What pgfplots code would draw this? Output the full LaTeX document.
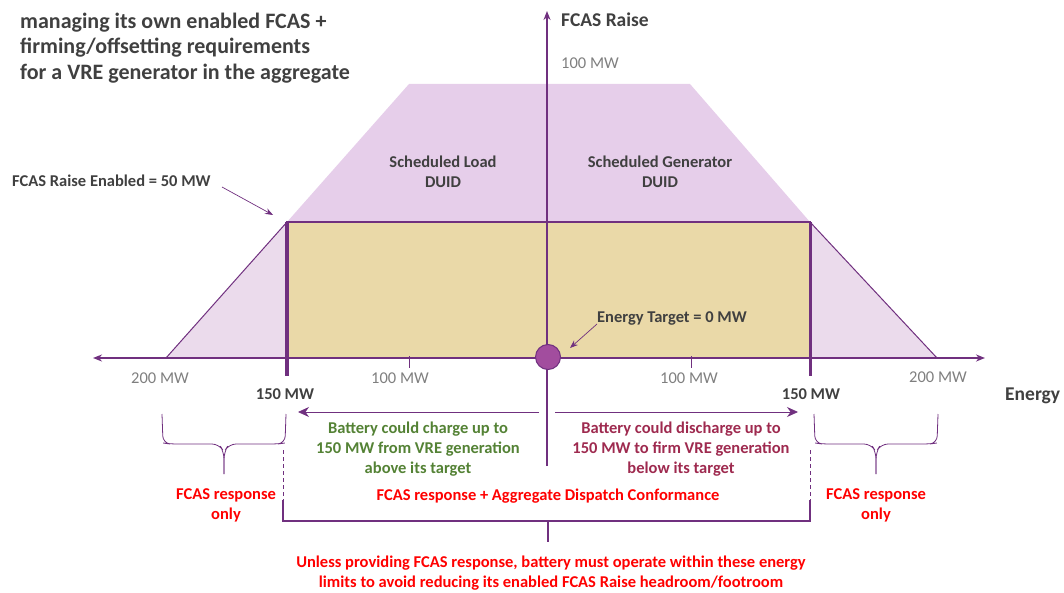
\documentclass[border=0pt]{standalone}
\usepackage{pgfplots}
\pgfplotsset{compat=1.18}
\usepackage{fontspec}
\setmainfont{Carlito}
\usetikzlibrary{arrows.meta}
\definecolor{pur}{HTML}{70307F}
\definecolor{lav}{HTML}{E6CEEA}
\definecolor{lavside}{HTML}{EBDBEC}
\definecolor{tan}{HTML}{EAD9A8}
\definecolor{dot}{HTML}{A24D9E}
\definecolor{dgray}{HTML}{404040}
\definecolor{mgray}{HTML}{7F7F7F}
\definecolor{grn}{HTML}{548235}
\definecolor{mar}{HTML}{9E2A4F}
\tikzset{lbl/.style={inner sep=0pt, align=center}}
\newcommand{\lab}{\fontsize{16.5}{20}\selectfont\bfseries}
\newcommand{\num}{\fontsize{16.5}{20}\selectfont}
\begin{document}
\begin{tikzpicture}
\useasboundingbox (0,0) rectangle (1064pt,593pt);
\begin{axis}[
    scale only axis,
    width=1064pt, height=593pt,
    xmin=0, xmax=1064, ymin=0, ymax=593,
    y dir=reverse,
    hide axis,
    clip=false,
  ]
  % shaded regions
  \addplot [fill=lav, draw=none] coordinates {(287,222) (409,84) (690,84) (810,222)} -- cycle;
  \addplot [fill=lavside, draw=none] coordinates {(166,358) (287,222) (287,358)} -- cycle;
  \addplot [fill=lavside, draw=none] coordinates {(810,222) (937,358) (810,358)} -- cycle;
  \addplot [fill=tan, draw=pur, line width=1.2pt] coordinates {(287,222) (810,222) (810,358) (287,358)} -- cycle;
  % slanted edges
  \addplot [pur, line width=1pt] coordinates {(166,358) (287,222)};
  \addplot [pur, line width=1pt] coordinates {(810,222) (937,358)};
  % thick 150 MW limits
  \addplot [pur, line width=3.5pt] coordinates {(287,222) (287,376)};
  \addplot [pur, line width=3pt] coordinates {(810,222) (810,376)};
  % axes
  \addplot [pur, line width=1.6pt, {Stealth[length=9pt,width=7pt]}-{Stealth[length=9pt,width=7pt]}] coordinates {(93,358) (985,358)};
  \addplot [pur, line width=1.6pt, -{Stealth[length=9pt,width=7pt]}] coordinates {(547,466) (547,11)};
  \addplot [pur, line width=0.8pt] coordinates {(409,356) (409,368)};
  \addplot [pur, line width=0.8pt] coordinates {(691,356) (691,368)};
  % energy target dot
  \addplot [only marks, mark=*, mark size=12.5pt, mark options={fill=dot, draw=pur, line width=1pt}] coordinates {(548,357)};
  % charge / discharge arrows
  \addplot [pur, line width=0.8pt, -{Stealth[length=11pt,width=10pt]}] coordinates {(539,412) (298,412)};
  \addplot [pur, line width=0.8pt, -{Stealth[length=11pt,width=10pt]}] coordinates {(555,412) (798,412)};
  % annotation arrows
  \addplot [pur, line width=0.7pt, -{Stealth[length=8pt,width=6pt]}] coordinates {(222,187) (273,215)};
  \addplot [pur, line width=0.7pt, -{Stealth[length=8pt,width=6pt]}] coordinates {(597,324) (570,348)};
  % braces
  \addplot [pur, line width=0.8pt, rounded corners=7pt] coordinates {(162,414) (163,443) (170,444) (219,444) (224,452) (224,474)};
  \addplot [pur, line width=0.8pt, rounded corners=7pt] coordinates {(286,414) (285,443) (278,444) (229,444) (224,452) (224,474)};
  \addplot [pur, line width=0.8pt, rounded corners=7pt] coordinates {(814,414) (815,443) (822,444) (871,444) (876,452) (876,474)};
  \addplot [pur, line width=0.8pt, rounded corners=7pt] coordinates {(938,414) (937,443) (930,444) (881,444) (876,452) (876,474)};
  % dashed links
  \addplot [pur, line width=0.8pt, dash pattern=on 4pt off 3pt] coordinates {(283,450) (283,502)};
  \addplot [pur, line width=0.8pt, dash pattern=on 4pt off 3pt] coordinates {(810,450) (810,502)};
  % conformance bracket
  \addplot [pur, line width=2.5pt] coordinates {(283,500) (283,521) (810,521) (810,500)};
  \addplot [pur, line width=2.5pt] coordinates {(548,521) (548,542)};

  % texts
  \node [lbl, anchor=west, align=left, text=dgray, font=\fontsize{22}{25.5}\selectfont\bfseries] at (axis cs:20,48)
    {managing its own enabled FCAS +\\ firming/offsetting requirements\\ for a VRE generator in the aggregate};
  \node [lbl, anchor=west, text=dgray, font=\fontsize{19.5}{22}\selectfont\bfseries] at (axis cs:561,20) {FCAS Raise};
  \node [lbl, anchor=west, text=mgray, font=\num] at (axis cs:561,63) {100 MW};
  \node [lbl, anchor=west, text=dgray, font=\lab] at (axis cs:12,181) {FCAS Raise Enabled = 50 MW};
  \node [lbl, text=dgray, font=\lab] at (axis cs:443,172) {Scheduled Load\\ DUID};
  \node [lbl, text=dgray, font=\lab] at (axis cs:660,172) {Scheduled Generator\\ DUID};
  \node [lbl, text=dgray, font=\lab] at (axis cs:672,318) {Energy Target = 0 MW};
  \node [lbl, text=mgray, font=\num] at (axis cs:160,378) {200 MW};
  \node [lbl, text=mgray, font=\num] at (axis cs:400,378) {100 MW};
  \node [lbl, text=mgray, font=\num] at (axis cs:689,378) {100 MW};
  \node [lbl, text=mgray, font=\num] at (axis cs:938,377) {200 MW};
  \node [lbl, text=dgray, font=\lab] at (axis cs:285,394) {150 MW};
  \node [lbl, text=dgray, font=\lab] at (axis cs:811,394) {150 MW};
  \node [lbl, anchor=west, text=dgray, font=\fontsize{19.5}{22}\selectfont\bfseries] at (axis cs:1005,396) {Energy};
  \node [lbl, text=grn, font=\lab] at (axis cs:418,449) {Battery could charge up to\\ 150 MW from VRE generation\\ above its target};
  \node [lbl, text=mar, font=\lab] at (axis cs:681,449) {Battery could discharge up to\\ 150 MW to firm VRE generation\\ below its target};
  \node [lbl, text=red, font=\lab] at (axis cs:226,505) {FCAS response\\ only};
  \node [lbl, text=red, font=\lab] at (axis cs:876,505) {FCAS response\\ only};
  \node [lbl, text=red, font=\lab] at (axis cs:548,496) {FCAS response + Aggregate Dispatch Conformance};
  \node [lbl, text=red, font=\lab] at (axis cs:551,573) {Unless providing FCAS response, battery must operate within these energy\\ limits to avoid reducing its enabled FCAS Raise headroom/footroom};
\end{axis}
\end{tikzpicture}
\end{document}
